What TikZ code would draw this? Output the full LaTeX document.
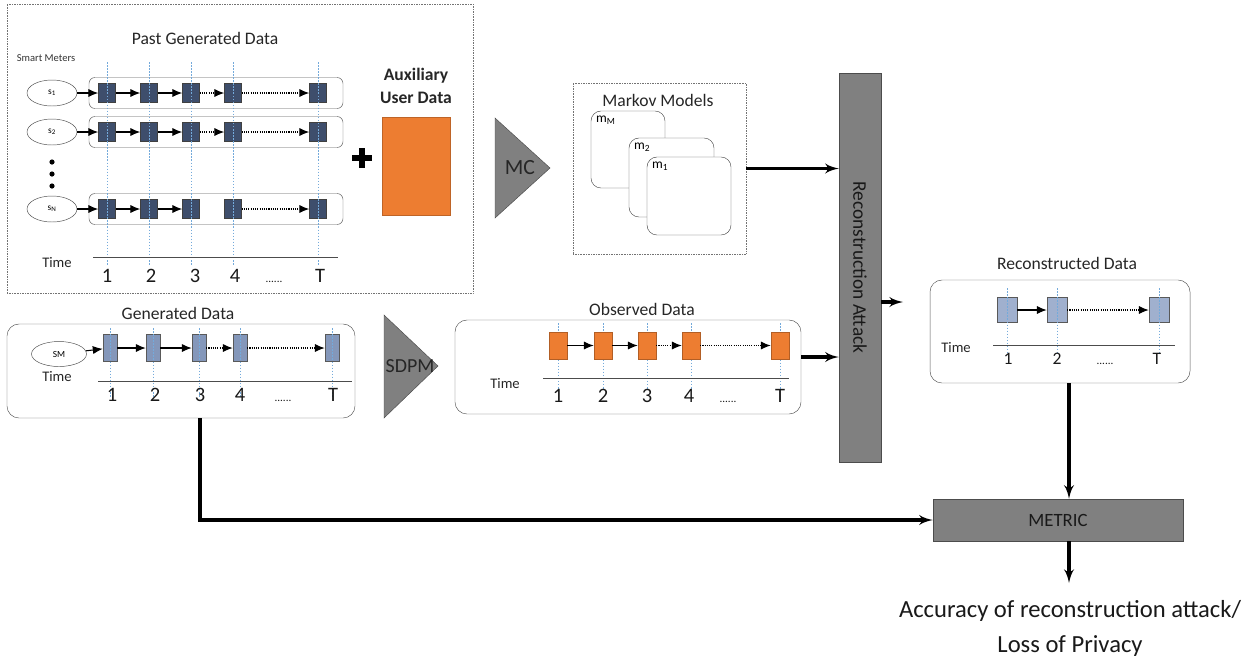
\documentclass[tikz,border=0pt]{standalone}
\usepackage{fontspec}
\setmainfont{Carlito}
\usetikzlibrary{shapes.geometric, arrows, arrows.meta, positioning}

\definecolor{pastblue}{RGB}{62,78,108}
\definecolor{genblue}{RGB}{132,151,186}
\definecolor{recblue}{RGB}{160,176,206}
\definecolor{obsorange}{RGB}{237,125,49}
\definecolor{tickblue}{RGB}{91,155,213}
\definecolor{blockgray}{RGB}{128,128,128}

\newdimen\pxu
\pxu=0.03cm

\begin{document}
\begin{tikzpicture}[x=0.03cm, y=-0.03cm, >=latex',
    panel/.style={draw=black!55, densely dotted, thin},
    seqrow/.style={draw=black!65, rounded corners=6*\pxu, minimum width=254*\pxu, minimum height=31*\pxu},
    seqbox/.style={draw=black!65, rounded corners=12*\pxu},
    meter/.style={ellipse, draw=black!70, minimum width=50*\pxu, minimum height=26*\pxu, inner sep=0pt, font=\fontsize{8}{9}\selectfont},
    sq/.style={rectangle, inner sep=0pt},
    pastsq/.style={sq, draw=black!75, fill=pastblue, minimum width=17*\pxu, minimum height=19*\pxu},
    gensq/.style={sq, draw=black!65, fill=genblue, minimum width=14*\pxu, minimum height=27*\pxu},
    obssq/.style={sq, draw=obsorange!75!black, fill=obsorange, minimum width=18*\pxu, minimum height=27*\pxu},
    recsq/.style={sq, draw=black!65, fill=recblue, minimum width=20*\pxu, minimum height=25*\pxu},
    card/.style={draw=black!70, fill=white, rounded corners=10*\pxu},
    cardlbl/.style={anchor=north west, inner sep=5*\pxu, font=\fontsize{11.5}{13}\selectfont},
    grayblock/.style={draw=black!70, fill=blockgray},
    tick/.style={draw=tickblue!85, dash pattern=on 1.3pt off 1.3pt, line width=0.6pt},
    axis/.style={draw=black!70, thin},
    seqarrow/.style={-{Latex[length=8.5pt,width=7pt]}, line width=0.9pt},
    seqdots/.style={seqarrow, densely dotted},
    bigarrow/.style={->, line width=3.5*\pxu},
    title/.style={font=\fontsize{15}{17}\selectfont, text=black!85},
    timelbl/.style={anchor=base, font=\fontsize{12.5}{14}\selectfont, text=black!85},
    numlbl/.style={anchor=base, font=\fontsize{17.5}{19}\selectfont, text=black!90},
    dotlbl/.style={anchor=base, font=\fontsize{9.5}{11}\selectfont, text=black!90}]

    \useasboundingbox (0,0) rectangle (1244,659);

    % past generated data of all meters
    \node[panel, minimum width=466*\pxu, minimum height=289*\pxu] (past) at (240,148.5) {};
    \node[title] (pasttitle) at (205,38) {Past Generated Data};
    \node[font=\fontsize{9}{10}\selectfont, text=black!80] (meters) at (46,58) {Smart Meters};
    \foreach \r/\y/\s in {1/93/s\textsubscript{1}, 2/132/s\textsubscript{2}, 3/209/s\textsubscript{N}} {
        \node[seqrow] (row\r) at (216,\y) {};
        \node[meter] (s\r) at (52,\y) {\s};
        \foreach \i/\x in {1/107, 2/149, 3/191, 4/233, 5/318}
            \node[pastsq] (p\r-\i) at (\x,\y) {};
        \draw[seqarrow] (s\r) -- (p\r-1);
        \draw[seqarrow] (p\r-1) -- (p\r-2);
        \draw[seqarrow] (p\r-2) -- (p\r-3);
        \draw[seqdots] (p\r-4) -- (p\r-5);
    }
    \draw[seqdots] (p1-3) -- (p1-4);
    \draw[seqdots] (p2-3) -- (p2-4);
    \foreach \y in {162,174,186}
        \fill[black] (52,\y) circle (2.6*\pxu);
    \foreach \x in {107,149,191,233,318}
        \draw[tick] (\x,62) -- (\x,265);
    \draw[axis] (93,257) -- (338,257);
    \node[timelbl] (pasttime) at (57,267) {Time};
    \foreach \x/\t in {107/1, 151/2, 195/3, 235/4, 320/T}
        \node[numlbl] (pastn\t) at (\x,282) {\t};
    \node[dotlbl] (pastdots) at (274,282) {......};

    % auxiliary data
    \draw[line width=6*\pxu] (352,158) -- (372,158) (362,148) -- (362,168);
    \node[title, font=\fontsize{15}{19}\selectfont\bfseries, align=center] (auxtitle) at (416,86) {Auxiliary\\User Data};
    \node[draw=obsorange!80!black, fill=obsorange, minimum width=68*\pxu, minimum height=98*\pxu] (aux) at (416,166) {};

    \draw[grayblock] (495,118) -- (550,168) -- (495,218) -- cycle;
    \node[font=\fontsize{18.5}{20}\selectfont, text=black!85] (mc) at (520,168) {MC};

    % markov models
    \node[panel, minimum width=173*\pxu, minimum height=171*\pxu] (markov) at (659.5,168.5) {};
    \node[title] (markovtitle) at (658,100) {Markov Models};
    \node[card, minimum width=74*\pxu, minimum height=77*\pxu, label={[cardlbl]north west:m\textsubscript{M}}] (mM) at (628,149.5) {};
    \node[card, minimum width=85*\pxu, minimum height=79*\pxu, label={[cardlbl]north west:m\textsubscript{2}}] (m2) at (671.5,177.5) {};
    \node[card, minimum width=84*\pxu, minimum height=78*\pxu, label={[cardlbl]north west:m\textsubscript{1}}] (m1) at (689,196) {};

    % attack
    \node[grayblock, minimum width=42*\pxu, minimum height=389*\pxu] (bar) at (860,267.5) {};
    \node[rotate=-90, font=\fontsize{16.5}{18}\selectfont, text=black!90] (bartext) at (bar.center) {Reconstruction Attack};

    % generated data
    \node[seqbox, minimum width=348*\pxu, minimum height=94*\pxu] (gen) at (181,371) {};
    \node[title] (gentitle) at (178,313) {Generated Data};
    \node[meter, minimum width=55*\pxu, minimum height=25*\pxu] (sm) at (59,354) {SM};
    \foreach \i/\x in {1/110, 2/153, 3/199, 4/240, 5/332}
        \node[gensq] (g\i) at (\x,348) {};
    \draw[seqarrow] (sm) -- (g1);
    \draw[seqarrow] (g1) -- (g2);
    \draw[seqarrow] (g2) -- (g3);
    \draw[seqdots] (g3) -- (g4);
    \draw[seqdots] (g4) -- (g5);
    \foreach \x in {110,153,199,240,332}
        \draw[tick] (\x,328) -- (\x,397);
    \draw[axis] (98,381) -- (352,381);
    \node[timelbl] (gentime) at (57,381) {Time};
    \foreach \x/\t in {112/1, 155/2, 200/3, 240/4, 333/T}
        \node[numlbl] (genn\t) at (\x,401) {\t};
    \node[dotlbl] (gendots) at (283,401) {......};

    \draw[grayblock] (384,315) -- (438,366) -- (384,418) -- cycle;
    \node[font=\fontsize{17}{18}\selectfont, text=black!85] (sdpm) at (410,366) {SDPM};

    % observed data
    \node[seqbox, minimum width=346*\pxu, minimum height=94*\pxu] (obs) at (628,367) {};
    \node[title] (obstitle) at (642,309) {Observed Data};
    \foreach \x in {558,603,647,691,780}
        \draw[tick] (\x,323) -- (\x,390);
    \foreach \i/\x in {1/558, 2/603, 3/647, 4/691, 5/780}
        \node[obssq] (o\i) at (\x,345.5) {};
    \draw[seqarrow] (o1) -- (o2);
    \draw[seqarrow] (o2) -- (o3);
    \draw[seqdots] (o3) -- (o4);
    \draw[seqdots] (o4) -- (o5);
    \draw[axis] (543,378) -- (789,378);
    \node[timelbl] (obstime) at (505,388) {Time};
    \foreach \x/\t in {558/1, 603/2, 647/3, 689/4, 780/T}
        \node[numlbl] (obsn\t) at (\x,402) {\t};
    \node[dotlbl] (obsdots) at (728,402) {......};

    % reconstructed data
    \node[seqbox, minimum width=260*\pxu, minimum height=103*\pxu] (recon) at (1060,331.5) {};
    \node[title] (rectitle) at (1067,263) {Reconstructed Data};
    \foreach \i/\x in {1/1007, 2/1057, 3/1159}
        \node[recsq] (r\i) at (\x,310) {};
    \draw[seqarrow] (r1) -- (r2);
    \draw[seqdots] (r2) -- (r3);
    \foreach \x in {1007,1057,1159}
        \draw[tick] (\x,288) -- (\x,353);
    \draw[axis] (993,345) -- (1175,345);
    \node[timelbl] (rectime) at (956,352) {Time};
    \foreach \x/\t in {1008/1, 1057/2, 1157/T}
        \node[numlbl, font=\fontsize{15}{16}\selectfont] (recn\t) at (\x,364) {\t};
    \node[dotlbl] (recdots) at (1105,364) {......};

    % metric
    \node[grayblock, minimum width=250*\pxu, minimum height=42*\pxu, font=\fontsize{16}{17}\selectfont, text=black!90] (metric) at (1058,520) {METRIC};
    \node[anchor=north, inner ysep=15pt, align=center, font=\fontsize{21}{29.75}\selectfont, text=black!90] (acc) at (1070,583) {Accuracy of reconstruction attack/\\Loss of Privacy};

    % connectors
    \coordinate (outend) at (903,302);
    \draw[bigarrow] (markov.east) -- (markov.east -| bar.west);
    \draw[bigarrow] ([yshift=10*\pxu]obs.east) -- ([yshift=10*\pxu]obs.east -| bar.west);
    \draw[bigarrow] (bar.east |- outend) -- (outend);
    \draw[bigarrow] ([xshift=9*\pxu]recon.south) -- ([xshift=9*\pxu]recon.south |- metric.north);
    \draw[bigarrow] ([xshift=19*\pxu]gen.south) |- (metric.west);
    \draw[bigarrow] ([xshift=11*\pxu]metric.south) -- ([xshift=11*\pxu]metric.south |- acc.north);
\end{tikzpicture}
\end{document}
